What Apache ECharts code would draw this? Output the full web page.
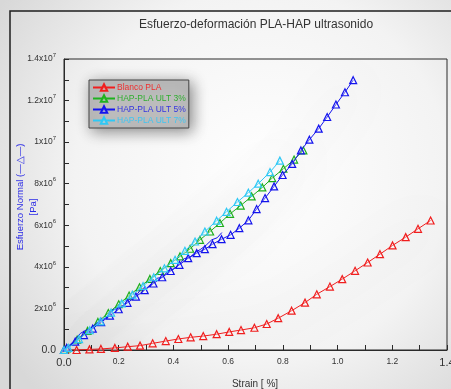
<!DOCTYPE html>
<html>
<head>
<meta charset="utf-8">
<script src="https://cdn.jsdelivr.net/npm/echarts@6/dist/echarts.min.js"></script>
<style>
  html, body { margin: 0; padding: 0; background: #dcdcdc; }
  #chart { width: 451px; height: 389px; }
</style>
</head>
<body>
<div id="chart"></div>
<script>
// series names
const seriesNames = ["Blanco PLA", "HAP-PLA ULT 3%", "HAP-PLA ULT 5%", "HAP-PLA ULT 7%"];
const seriesColors = ["#f01e1e", "#1fb21f", "#1414ee", "#2ec8f5"];
const legendTextColors = ["#ee2f2f", "#2fae2f", "#3434e0", "#3fc6f2"];

// [strain %, stress Pa]
const blancoPLA = [
  [0.004, 0], [0.046, 0], [0.093, 0.03e6], [0.135, 0.05e6], [0.186, 0.10e6],
  [0.233, 0.16e6], [0.278, 0.21e6], [0.324, 0.32e6], [0.372, 0.43e6], [0.418, 0.53e6],
  [0.463, 0.61e6], [0.509, 0.67e6], [0.558, 0.76e6], [0.604, 0.87e6], [0.647, 0.96e6],
  [0.696, 1.07e6], [0.741, 1.25e6], [0.783, 1.53e6], [0.832, 1.89e6], [0.881, 2.28e6],
  [0.924, 2.68e6], [0.972, 3.05e6], [1.017, 3.41e6], [1.064, 3.81e6], [1.110, 4.21e6],
  [1.155, 4.61e6], [1.201, 5.03e6], [1.249, 5.43e6], [1.294, 5.83e6], [1.340, 6.23e6]
];

const ult3 = [
  [0, 0], [0.010, 0.08e6], [0.048, 0.50e6], [0.086, 0.92e6], [0.124, 1.35e6],
  [0.162, 1.78e6], [0.200, 2.20e6], [0.238, 2.62e6], [0.276, 3.02e6], [0.314, 3.42e6],
  [0.352, 3.80e6], [0.390, 4.18e6], [0.424, 4.50e6], [0.461, 4.87e6], [0.497, 5.30e6],
  [0.534, 5.70e6], [0.570, 6.11e6], [0.607, 6.55e6], [0.646, 6.95e6], [0.686, 7.39e6],
  [0.725, 7.82e6], [0.761, 8.27e6], [0.802, 8.72e6], [0.841, 9.16e6], [0.875, 9.60e6]
];

const ult5 = [
  [0, 0], [0.010, 0.10e6], [0.041, 0.40e6], [0.073, 0.72e6], [0.105, 1.03e6],
  [0.136, 1.34e6], [0.168, 1.65e6], [0.200, 1.96e6], [0.232, 2.27e6], [0.263, 2.57e6],
  [0.295, 2.88e6], [0.327, 3.20e6], [0.359, 3.50e6], [0.390, 3.80e6], [0.422, 4.10e6],
  [0.454, 4.42e6], [0.485, 4.66e6], [0.515, 4.85e6], [0.543, 5.09e6], [0.576, 5.33e6],
  [0.609, 5.54e6], [0.641, 5.86e6], [0.674, 6.24e6], [0.704, 6.78e6], [0.735, 7.31e6],
  [0.768, 7.87e6], [0.799, 8.42e6], [0.834, 8.95e6], [0.866, 9.60e6], [0.897, 10.12e6],
  [0.931, 10.65e6], [0.962, 11.21e6], [0.994, 11.81e6], [1.027, 12.40e6], [1.057, 12.98e6]
];

// raw (noisy) first part of the 5% curve, drawn without markers
const ult5Raw = [
  [0, 0], [0.03, 0.35e6], [0.06, 0.80e6], [0.08, 0.95e6], [0.10, 1.05e6],
  [0.12, 1.30e6], [0.14, 1.45e6], [0.16, 1.60e6], [0.18, 1.95e6], [0.20, 2.00e6],
  [0.22, 2.20e6], [0.24, 2.45e6], [0.26, 2.55e6], [0.28, 2.90e6], [0.30, 2.95e6],
  [0.32, 3.20e6], [0.34, 3.45e6], [0.36, 3.50e6], [0.38, 3.80e6], [0.40, 3.90e6],
  [0.42, 4.10e6], [0.44, 4.40e6], [0.46, 4.45e6], [0.48, 4.70e6], [0.50, 4.85e6],
  [0.52, 5.05e6], [0.54, 5.30e6], [0.56, 5.40e6], [0.577, 5.65e6]
];

const ult7 = [
  [0, 0], [0.016, 0.10e6], [0.055, 0.52e6], [0.094, 0.95e6], [0.133, 1.38e6],
  [0.172, 1.80e6], [0.211, 2.24e6], [0.250, 2.66e6], [0.289, 3.08e6], [0.328, 3.50e6],
  [0.367, 3.93e6], [0.406, 4.34e6], [0.442, 4.77e6], [0.479, 5.22e6], [0.515, 5.70e6],
  [0.558, 6.22e6], [0.594, 6.65e6], [0.634, 7.12e6], [0.674, 7.57e6], [0.710, 8.00e6],
  [0.753, 8.56e6], [0.789, 9.11e6]
];

// y tick labels (every 2e6)
const yTickLabels = {
  0: "{big|0.0}",
  2e6: "{b|2x10}{sup|6}",
  4e6: "{b|4x10}{sup|6}",
  6e6: "{b|6x10}{sup|6}",
  8e6: "{b|8x10}{sup|6}",
  1e7: "{b|1x10}{sup|7}",
  1.2e7: "{b|1.2x10}{sup|7}",
  1.4e7: "{b|1.4x10}{sup|7}"
};

const chart = echarts.init(document.getElementById("chart"));

const mkSeries = (name, data, i) => ({
  name: name,
  type: "line",
  data: data,
  symbol: "triangle",
  symbolSize: 7,
  z: 3 + i,
  lineStyle: {
    color: seriesColors[i], width: 1,
    shadowBlur: 40, shadowColor: "rgba(0,0,0,0.5)", shadowOffsetY: 3
  },
  itemStyle: { color: "rgba(255,255,255,0.25)", borderColor: seriesColors[i], borderWidth: 1.2 }
});

const option = {
  animation: false,
  backgroundColor: {
    type: "radial", x: 0.58, y: 0.45, r: 0.8,
    colorStops: [
      { offset: 0, color: "#ffffff" },
      { offset: 0.6, color: "#f3f3f3" },
      { offset: 1, color: "#d8d8d8" }
    ]
  },
  grid: {
    left: 64, top: 59, right: 4, bottom: 39,
    outerBoundsMode: "none",
    show: true, borderColor: "#2a2a2a", borderWidth: 1
  },
  xAxis: {
    type: "value", min: 0, max: 1.4, interval: 0.1,
    axisLine: { lineStyle: { color: "#2a2a2a" } },
    axisTick: { inside: true, length: 5, lineStyle: { color: "#2a2a2a" } },
    splitLine: { show: false },
    axisLabel: {
      margin: 7, color: "#333", fontFamily: "Liberation Sans", fontSize: 8.5,
      showMaxLabel: true,
      formatter: v => {
        const k = Math.round(v * 10);
        if (k % 2 !== 0) return "";
        const s = (k / 10).toFixed(1);
        return (k === 0 || k === 14) ? "{big|" + s + "}" : s;
      },
      rich: { big: { fontSize: 11, color: "#333", fontFamily: "Liberation Sans" } }
    }
  },
  yAxis: {
    type: "value", min: 0, max: 1.4e7, interval: 1e6,
    axisLine: { show: true, lineStyle: { color: "#2a2a2a" } },
    axisTick: { show: true, inside: true, length: 5, lineStyle: { color: "#2a2a2a" } },
    splitLine: { show: false },
    axisLabel: {
      margin: 8, color: "#333", fontFamily: "Liberation Sans",
      showMaxLabel: true,
      formatter: v => yTickLabels[Math.round(v)] || "",
      rich: {
        b: { fontSize: 8.5, color: "#333", fontFamily: "Liberation Sans", lineHeight: 14 },
        sup: { fontSize: 6, color: "#333", fontFamily: "Liberation Sans", verticalAlign: "top", lineHeight: 14 },
        big: { fontSize: 10.5, color: "#333", fontFamily: "Liberation Sans" }
      }
    }
  },
  legend: {
    orient: "vertical", left: 89, top: 80,
    itemWidth: 22, itemHeight: 8, itemGap: 2,
    padding: [3, 3, 3, 3],
    backgroundColor: "#bcbcbc", borderColor: "#444", borderWidth: 1,
    shadowBlur: 14, shadowColor: "rgba(0,0,0,0.45)", shadowOffsetX: 3, shadowOffsetY: 3,
    textStyle: { fontSize: 8.5, fontFamily: "Liberation Sans", padding: [0, 0, 0, -3] },
    data: seriesNames.map((n, i) => ({ name: n, textStyle: { color: legendTextColors[i] } }))
  },
  graphic: [
    { type: "rect", shape: { x: 10, y: 11, width: 470, height: 400 },
      style: { fill: "none", stroke: "#1e1e1e", lineWidth: 1.5 }, silent: true },
    { type: "text", x: 256, y: 25,
      style: { text: "Esfuerzo-deformación PLA-HAP ultrasonido", fill: "#333",
        font: "12px 'Liberation Sans'", textAlign: "center", textVerticalAlign: "middle" } },
    { type: "text", x: 20, y: 197, rotation: Math.PI / 2,
      style: { text: "Esfuerzo Normal (—△—)", fill: "#2a2ae6",
        font: "9.5px 'Liberation Sans'", textAlign: "center", textVerticalAlign: "middle" } },
    { type: "text", x: 33, y: 207, rotation: Math.PI / 2,
      style: { text: "[Pa]", fill: "#2a2ae6",
        font: "9.5px 'Liberation Sans'", textAlign: "center", textVerticalAlign: "middle" } },
    { type: "text", x: 255, y: 384,
      style: { text: "Strain [ %]", fill: "#333",
        font: "10px 'Liberation Sans'", textAlign: "center", textVerticalAlign: "middle" } }
  ],
  series: [
    mkSeries(seriesNames[0], blancoPLA, 0),
    mkSeries(seriesNames[1], ult3, 1),
    mkSeries(seriesNames[2], ult5, 2),
    {
      name: seriesNames[2], type: "line", data: ult5Raw, symbol: "none", z: 5,
      lineStyle: { color: seriesColors[2], width: 1 }
    },
    mkSeries(seriesNames[3], ult7, 3)
  ]
};

chart.setOption(option);
</script>
</body>
</html>
